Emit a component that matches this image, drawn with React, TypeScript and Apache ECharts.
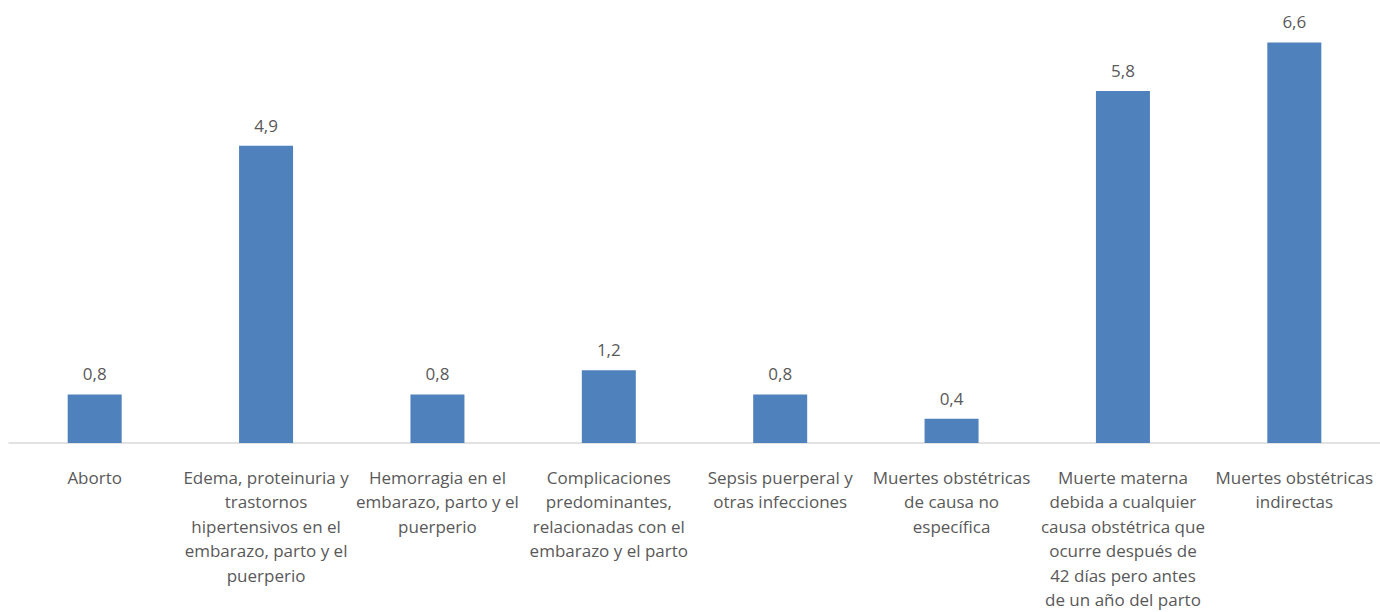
import React, { useEffect, useRef } from "react";
import * as echarts from "echarts";

const categories = [
  "Aborto",
  "Edema, proteinuria y\ntrastornos\nhipertensivos en el\nembarazo, parto y el\npuerperio",
  "Hemorragia en el\nembarazo, parto y el\npuerperio",
  "Complicaciones\npredominantes,\nrelacionadas con el\nembarazo y el parto",
  "Sepsis puerperal y\notras infecciones",
  "Muertes obstétricas\nde causa no\nespecífica",
  "Muerte materna\ndebida a cualquier\ncausa obstétrica que\nocurre después de\n42 días pero antes\nde un año del parto",
  "Muertes obstétricas\nindirectas",
];
const values = [0.8, 4.9, 0.8, 1.2, 0.8, 0.4, 5.8, 6.6];

export default function App() {
  const ref = useRef<HTMLDivElement>(null);
  useEffect(() => {
    document.body.style.margin = "0";
    const chart = echarts.init(ref.current!, null, { renderer: "svg" });
    chart.setOption({
      animation: false,
      backgroundColor: "#ffffff",
      grid: { left: 9, right: -2, top: 0, bottom: 166, containLabel: false },
      xAxis: {
        type: "category",
        data: categories,
        axisLine: { show: true, lineStyle: { color: "#d9d9d9", width: 1.5 } },
        axisTick: { show: false },
        axisLabel: {
          interval: 0,
          color: "#595959",
          fontFamily: "Open Sans",
          fontSize: 17,
          lineHeight: 24.5,
          margin: 22,
        },
      },
      yAxis: {
        type: "value",
        min: 0,
        max: 7.3,
        show: false,
        splitLine: { show: false },
      },
      series: [
        {
          type: "bar",
          data: values,
          barWidth: 54,
          itemStyle: { color: "#4f81bd" },
          label: {
            show: true,
            position: "top",
            distance: 12,
            color: "#595959",
            fontFamily: "Open Sans",
            fontSize: 17,
            formatter: (p: any) => String(p.value.toFixed(1)).replace(".", ","),
          },
        },
      ],
    });
    return () => chart.dispose();
  }, []);
  return (
    <div
      ref={ref}
      style={{ position: "absolute", left: 0, top: 0, width: 1380, height: 612 }}
    />
  );
}
